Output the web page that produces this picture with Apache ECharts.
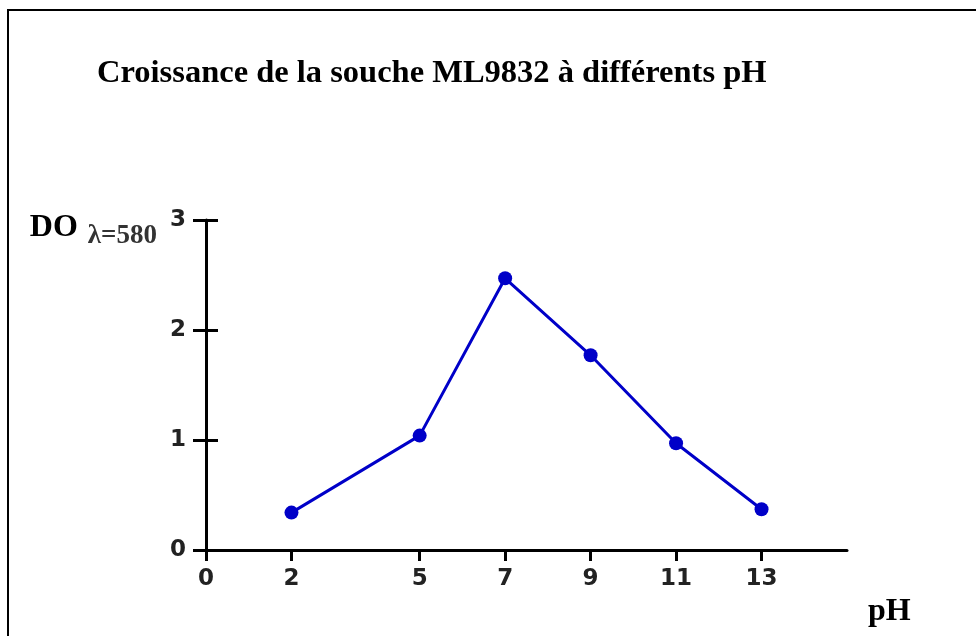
<!DOCTYPE html>
<html>
<head>
<meta charset="utf-8">
<script src="https://cdn.jsdelivr.net/npm/echarts@6/dist/echarts.min.js"></script>
<style>
html,body{margin:0;padding:0;background:#fff;}
#chart{width:976px;height:636px;}
</style>
</head>
<body>
<div id="chart"></div>
<script>
const titleText = 'Croissance de la souche ML9832 à différents pH';
const phValues = [2, 5, 7, 9, 11, 13];
const doValues = [0.34, 1.04, 2.47, 1.77, 0.97, 0.37];
const xTickValues = [0, 2, 5, 7, 9, 11, 13];
const yTickValues = [0, 1, 2, 3];

const chart = echarts.init(document.getElementById('chart'));
const tickFont = {fontFamily: 'DejaVu Sans', fontWeight: 'bold', fontSize: 23, color: '#222'};
chart.setOption({
  animation: false,
  backgroundColor: '#fff',
  title: {
    text: titleText,
    left: 92, top: 52,
    textStyle: {fontFamily: 'Liberation Serif', fontWeight: 'bold', fontSize: 32.5, color: '#000'}
  },
  graphic: [{
    type: 'rect', silent: true,
    shape: {x: 8, y: 10, width: 1000, height: 700},
    style: {fill: 'none', stroke: '#000', lineWidth: 2}
  }],
  grid: [
    {left: 206, right: 129, top: 220, bottom: 86, containLabel: false},
    {left: 218, width: 10, top: 220, bottom: 86, containLabel: false}
  ],
  xAxis: [{
    type: 'value', min: 0, max: 15,
    name: '{e| }\n{p|pH}', nameLocation: 'end', nameGap: 21,
    nameTextStyle: {align: 'left', verticalAlign: 'middle',
      rich: {
        e: {fontSize: 10, lineHeight: 124},
        p: {fontFamily: 'Liberation Serif', fontWeight: 'bold', fontSize: 32, color: '#000', lineHeight: 32}
      }},
    axisLine: {show: true, onZero: false, lineStyle: {color: '#000', width: 3}},
    axisTick: {show: true, length: 11, lineStyle: {color: '#000', width: 3}, customValues: xTickValues},
    axisLabel: Object.assign({margin: 18, customValues: xTickValues}, tickFont),
    splitLine: {show: false}
  }, {
    type: 'value', gridIndex: 1, min: 0, max: 1, show: false
  }],
  yAxis: [{
    type: 'value', min: 0, max: 3, interval: 1,
    name: '{a|DO}{b|λ=580}', nameLocation: 'end', nameGap: -8,
    nameTextStyle: {align: 'right', verticalAlign: 'middle', padding: [0, 49, 0, 0],
      rich: {
        a: {fontFamily: 'Liberation Serif', fontWeight: 'bold', fontSize: 32, color: '#000', padding: [0, 10, 0, 0]},
        b: {fontFamily: 'Liberation Serif', fontWeight: 'bold', fontSize: 27, color: '#333', padding: [16, 0, 0, 0]}
      }},
    axisLine: {show: true, onZero: false, lineStyle: {color: '#000', width: 3}},
    axisTick: {show: true, length: 13, lineStyle: {color: '#000', width: 3}},
    axisLabel: Object.assign({margin: 20, customValues: yTickValues}, tickFont),
    splitLine: {show: false}
  }, {
    type: 'value', gridIndex: 1, min: 0, max: 3, interval: 1, position: 'left',
    axisLine: {show: false},
    axisTick: {show: true, length: 12, lineStyle: {color: '#000', width: 3}},
    axisLabel: {show: false},
    splitLine: {show: false}
  }],
  series: [{
    type: 'line',
    data: phValues.map((p, i) => [p, doValues[i]]),
    symbol: 'circle', symbolSize: 14,
    lineStyle: {color: '#0000c8', width: 3},
    itemStyle: {color: '#0000c8'}
  }]
});
</script>
</body>
</html>
